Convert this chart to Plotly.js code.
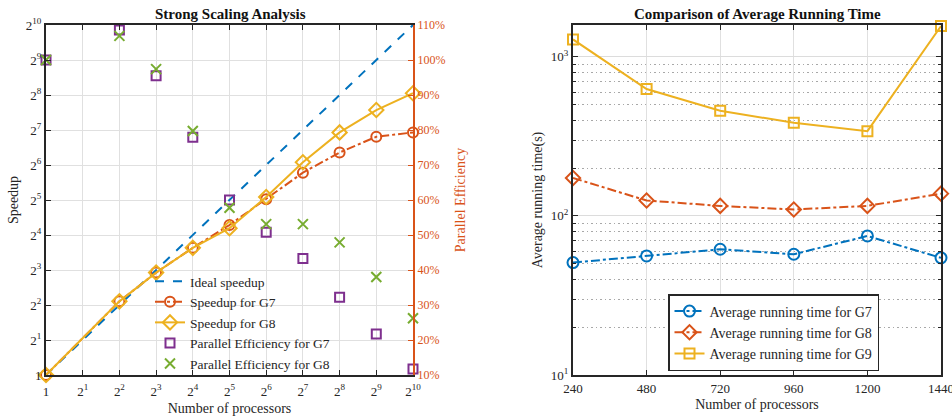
<!DOCTYPE html>
<html><head><meta charset="utf-8">
<script src="https://cdn.plot.ly/plotly-3.0.1.min.js"></script>
<style>html,body{margin:0;padding:0;background:#fff}#chart{width:952px;height:416px}</style>
</head><body><div id="chart"></div>
<script>
// ---- Left chart: strong scaling ----
const procs = [1, 4, 8, 16, 32, 64, 128, 256, 512, 1024];
const idealSpeedup = [1, 4, 8, 16, 32, 64, 128, 256, 512, 1024];
const speedupG7 = [1, 4.3, 7.6, 12.4, 19.5, 32.5, 55, 82, 112, 122];
const speedupG8 = [1, 4.3, 7.6, 12.4, 18.3, 34, 67.5, 122, 190, 265];
const effG7 = [100, 108.6, 95.5, 77.9, 60, 50.8, 43.3, 32.2, 21.7, 11.7];
const effG8 = [100, 106.9, 97.4, 79.7, 57.8, 53.1, 53.1, 47.9, 38, 26.2];
const pow2Ticks = [1, 2, 4, 8, 16, 32, 64, 128, 256, 512, 1024];
const pow2Labels = ['1', '2<sup>1</sup>', '2<sup>2</sup>', '2<sup>3</sup>', '2<sup>4</sup>', '2<sup>5</sup>',
  '2<sup>6</sup>', '2<sup>7</sup>', '2<sup>8</sup>', '2<sup>9</sup>', '2<sup>10</sup>'];
const effTicks = [10, 20, 30, 40, 50, 60, 70, 80, 90, 100, 110];
const effLabels = ['10%', '20%', '30%', '40%', '50%', '60%', '70%', '80%', '90%', '100%', '110%'];

// ---- Right chart: running time ----
const procsRun = [240, 480, 720, 960, 1200, 1440];
const procsRunLabels = ['240', '480', '720', '960', '1200', '1440'];
const timeG7 = [50.9, 56, 61.7, 57.4, 74.8, 54.5];
const timeG8 = [173, 125, 115.6, 109.7, 115.6, 138];
const timeG9 = [1286, 627, 458, 385, 341, 1560];
const timeTicks = [10, 100, 1000];
const timeLabels = ['10<sup>1</sup>', '10<sup>2</sup>', '10<sup>3</sup>'];
const timeMinor = [20, 30, 40, 50, 60, 70, 80, 90, 200, 300, 400, 500, 600, 700, 800, 900];

const BLUE = '#0072BD', ORANGE = '#D95319', YELLOW = '#EDB120', PURPLE = '#7E2F8E', GREEN = '#77AC30';
const FONT = '"Liberation Serif", "Times New Roman", serif';
const TXT = '#262626';

const traces = [
  {x: procs, y: idealSpeedup, xaxis: 'x', yaxis: 'y', mode: 'lines', name: 'Ideal speedup',
   line: {color: BLUE, dash: 'dash', width: 2}, legend: 'legend', legendgroup: 'L', cliponaxis: false},
  {x: procs, y: speedupG7, xaxis: 'x', yaxis: 'y', mode: 'lines+markers', name: 'Speedup for G7',
   line: {color: ORANGE, dash: 'dashdot', width: 2},
   marker: {symbol: 'circle-open', size: 10, color: ORANGE, line: {width: 2, color: ORANGE}},
   legend: 'legend', legendgroup: 'L', cliponaxis: false},
  {x: procs, y: speedupG8, xaxis: 'x', yaxis: 'y', mode: 'lines+markers', name: 'Speedup for G8',
   line: {color: YELLOW, width: 2},
   marker: {symbol: 'diamond-open', size: 11, color: YELLOW, line: {width: 2, color: YELLOW}},
   legend: 'legend', legendgroup: 'L', cliponaxis: false},
  {x: procs, y: effG7, xaxis: 'x', yaxis: 'y2', mode: 'markers', name: 'Parallel Efficiency for G7',
   marker: {symbol: 'square-open', size: 9, color: PURPLE, line: {width: 2, color: PURPLE}},
   legend: 'legend', legendgroup: 'L', cliponaxis: false},
  {x: procs, y: effG8, xaxis: 'x', yaxis: 'y2', mode: 'markers', name: 'Parallel Efficiency for G8',
   marker: {symbol: 'x-thin-open', size: 10, color: GREEN, line: {width: 2, color: GREEN}},
   legend: 'legend', legendgroup: 'L', cliponaxis: false},
  {x: procsRun, y: timeG7, xaxis: 'x2', yaxis: 'y3', mode: 'lines+markers', name: 'Average running time for G7',
   line: {color: BLUE, dash: 'dashdot', width: 2},
   marker: {symbol: 'circle-open', size: 11, color: BLUE, line: {width: 2, color: BLUE}},
   legend: 'legend2', legendgroup: 'R', cliponaxis: false},
  {x: procsRun, y: timeG8, xaxis: 'x2', yaxis: 'y3', mode: 'lines+markers', name: 'Average running time for G8',
   line: {color: ORANGE, dash: 'dashdot', width: 2},
   marker: {symbol: 'diamond-open', size: 11, color: ORANGE, line: {width: 2, color: ORANGE}},
   legend: 'legend2', legendgroup: 'R', cliponaxis: false},
  {x: procsRun, y: timeG9, xaxis: 'x2', yaxis: 'y3', mode: 'lines+markers', name: 'Average running time for G9',
   line: {color: YELLOW, width: 2},
   marker: {symbol: 'square-open', size: 10, color: YELLOW, line: {width: 2, color: YELLOW}},
   legend: 'legend2', legendgroup: 'R', cliponaxis: false}
];

const yDom = [1 - 375 / 416, 1 - 25 / 416];
const tickFont = {family: FONT, size: 13, color: TXT};
const titleFont = {family: FONT, size: 14, color: TXT};

const layout = {
  width: 952, height: 416,
  margin: {l: 0, r: 0, t: 0, b: 0},
  paper_bgcolor: '#fff', plot_bgcolor: '#fff',
  font: {family: FONT, color: TXT},
  xaxis: {
    type: 'log', range: [0, Math.log10(1024)], domain: [46 / 952, 413 / 952], anchor: 'y',
    tickmode: 'array', tickvals: pow2Ticks, ticktext: pow2Labels,
    showgrid: true, gridcolor: '#e0e0e0', gridwidth: 1, zeroline: false,
    ticks: 'inside', ticklen: 5, tickcolor: TXT, showline: true, linecolor: TXT, linewidth: 2, mirror: 'ticks',
    tickfont: tickFont, automargin: false, ticklabeloverflow: 'allow', ticklabelstandoff: 3,
    title: {text: 'Number of processors', font: titleFont, standoff: 7}
  },
  yaxis: {
    type: 'log', range: [0, Math.log10(1024)], domain: yDom, anchor: 'x',
    tickmode: 'array', tickvals: pow2Ticks, ticktext: pow2Labels,
    showgrid: true, gridcolor: '#e0e0e0', gridwidth: 1, zeroline: false,
    ticks: 'inside', ticklen: 5, tickcolor: TXT, showline: true, linecolor: TXT, linewidth: 2,
    tickfont: tickFont, automargin: false, ticklabeloverflow: 'allow',
    title: {text: 'Speedup', font: titleFont, standoff: 4}
  },
  yaxis2: {
    overlaying: 'y', side: 'right', anchor: 'x', range: [10, 110],
    tickmode: 'array', tickvals: effTicks, ticktext: effLabels,
    showgrid: false, zeroline: false,
    ticks: 'inside', ticklen: 5, tickcolor: ORANGE, showline: true, linecolor: ORANGE, linewidth: 2,
    tickfont: {family: FONT, size: 12, color: ORANGE}, automargin: false, ticklabeloverflow: 'allow',
    title: {text: 'Parallel Efficiency', font: {family: FONT, size: 14, color: ORANGE}, standoff: 11}
  },
  xaxis2: {
    range: [240, 1440], domain: [573 / 952, 941 / 952], anchor: 'y3',
    tickmode: 'array', tickvals: procsRun, ticktext: procsRunLabels,
    showgrid: true, gridcolor: '#e0e0e0', gridwidth: 1, zeroline: false,
    ticks: 'inside', ticklen: 5, tickcolor: TXT, showline: true, linecolor: TXT, linewidth: 2, mirror: 'ticks',
    tickfont: tickFont, automargin: false, ticklabeloverflow: 'allow',
    title: {text: 'Number of processors', font: titleFont, standoff: 5}
  },
  yaxis3: {
    type: 'log', range: [1, 3.2], domain: yDom, anchor: 'x2',
    tickmode: 'array', tickvals: timeTicks, ticktext: timeLabels,
    showgrid: true, gridcolor: '#dcdcdc', gridwidth: 1, zeroline: false,
    ticks: 'inside', ticklen: 5, tickcolor: TXT, showline: true, linecolor: TXT, linewidth: 2, mirror: 'ticks',
    minor: {tickmode: 'array', tickvals: timeMinor, showgrid: true, griddash: '1.5px,3px', gridcolor: '#a8a8a8',
            gridwidth: 1, ticks: 'inside', ticklen: 3, tickcolor: TXT},
    tickfont: tickFont, automargin: false, ticklabeloverflow: 'allow',
    title: {text: 'Average running time(s)', font: titleFont, standoff: 5}
  },
  legend: {
    x: 150 / 952, y: 1 - 266 / 416, xanchor: 'left', yanchor: 'top', xref: 'paper', yref: 'paper',
    bgcolor: 'rgba(0,0,0,0)', borderwidth: 0, tracegroupgap: 0, traceorder: 'normal',
    font: {family: FONT, size: 13.5, color: TXT}
  },
  legend2: {
    x: 668 / 952, y: 1 - 294 / 416, xanchor: 'left', yanchor: 'top', xref: 'paper', yref: 'paper',
    bgcolor: '#fff', bordercolor: TXT, borderwidth: 1.5, tracegroupgap: 0, traceorder: 'normal',
    font: {family: FONT, size: 14, color: TXT}
  },
  annotations: [
    {text: '<b>Strong Scaling Analysis</b>', xref: 'paper', yref: 'paper', x: 230 / 952, y: 1 - 14 / 416,
     xanchor: 'center', yanchor: 'middle', showarrow: false, font: {family: FONT, size: 15, color: '#111'}},
    {text: '<b>Comparison of Average Running Time</b>', xref: 'paper', yref: 'paper', x: 757 / 952, y: 1 - 14 / 416,
     xanchor: 'center', yanchor: 'middle', showarrow: false, font: {family: FONT, size: 15, color: '#111'}}
  ],
  showlegend: true
};

Plotly.newPlot('chart', traces, layout, {displayModeBar: false, staticPlot: true});
</script>
</body></html>
